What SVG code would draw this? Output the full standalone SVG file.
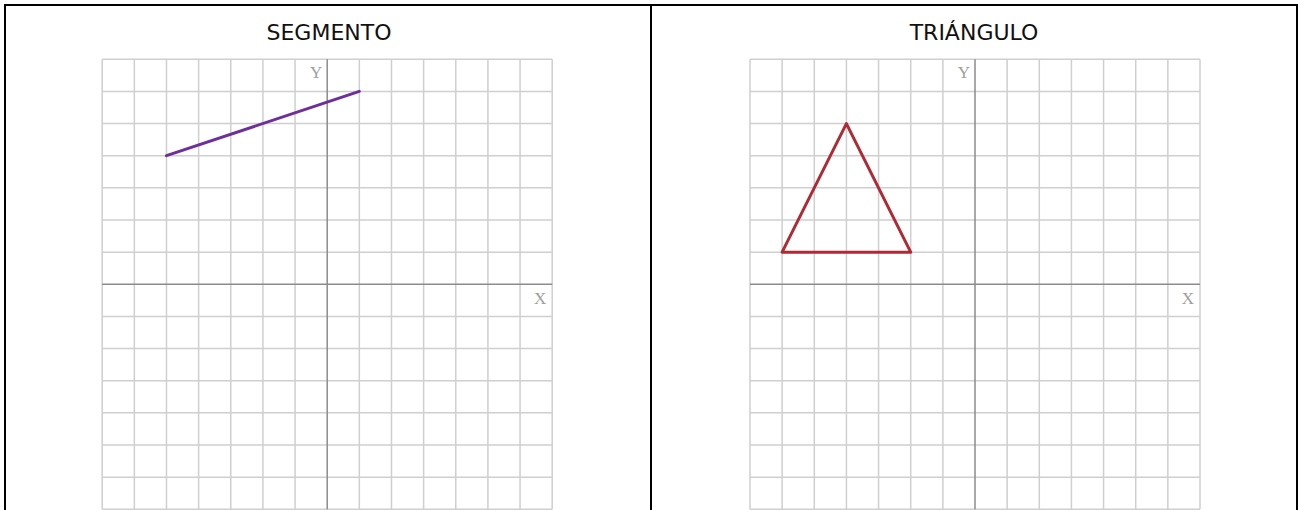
<svg xmlns="http://www.w3.org/2000/svg" xmlns:xlink="http://www.w3.org/1999/xlink" width="1298" height="510" viewBox="0 0 1298 510">
  <style>
    .frame { fill: none; stroke: #000; stroke-width: 2; }
    .title { font-family: "DejaVu Sans", Verdana, sans-serif; font-size: 22px; fill: #111; text-anchor: middle; }
    .grid { fill: none; stroke: #cfcfcf; stroke-width: 1.5; }
    .axis { fill: none; stroke: #8c8c8c; stroke-width: 1.5; }
    .axlab { font-family: "Liberation Serif", serif; font-size: 17px; fill: #a0a0a0; text-anchor: middle; }
    .seg { fill: none; stroke: #6f2f9a; stroke-width: 3; stroke-linecap: round; }
    .tri { fill: none; stroke: #b02a35; stroke-width: 3; stroke-linejoin: round; }
  </style>
  <defs>
    <g id="plane">
      <rect x="0" y="0" width="450" height="450" fill="#fff"/>
      <path class="grid" d="M0 0V450M32.14 0V450M64.29 0V450M96.43 0V450M128.57 0V450M160.71 0V450M192.86 0V450M257.14 0V450M289.29 0V450M321.43 0V450M353.57 0V450M385.71 0V450M417.86 0V450M450 0V450M0 0H450M0 32.14H450M0 64.29H450M0 96.43H450M0 128.57H450M0 160.71H450M0 192.86H450M0 257.14H450M0 289.29H450M0 321.43H450M0 353.57H450M0 385.71H450M0 417.86H450M0 450H450"/>
      <path class="axis" d="M225 0V450M0 225H450"/>
      <text class="axlab" x="214" y="19">Y</text>
      <text class="axlab" x="438" y="245">X</text>
    </g>
  </defs>
  <rect x="0" y="0" width="1298" height="510" fill="#fff"/>
  <g id="frame">
    <path class="frame" d="M4 5H1298M5 4V510M651 5V510M1297 4V510"/>
  </g>
  <g id="panel-segmento">
    <text class="title" x="329" y="40">SEGMENTO</text>
    <use xlink:href="#plane" transform="translate(102.2 59.3)"/>
    <line class="seg" x1="166.5" y1="155.7" x2="359.3" y2="91.4"/>
  </g>
  <g id="panel-triangulo">
    <text class="title" x="974" y="40">TRIÁNGULO</text>
    <use xlink:href="#plane" transform="translate(750 59.3)"/>
    <polygon class="tri" points="846.4,123.6 782.1,252.2 910.7,252.2"/>
  </g>
</svg>
